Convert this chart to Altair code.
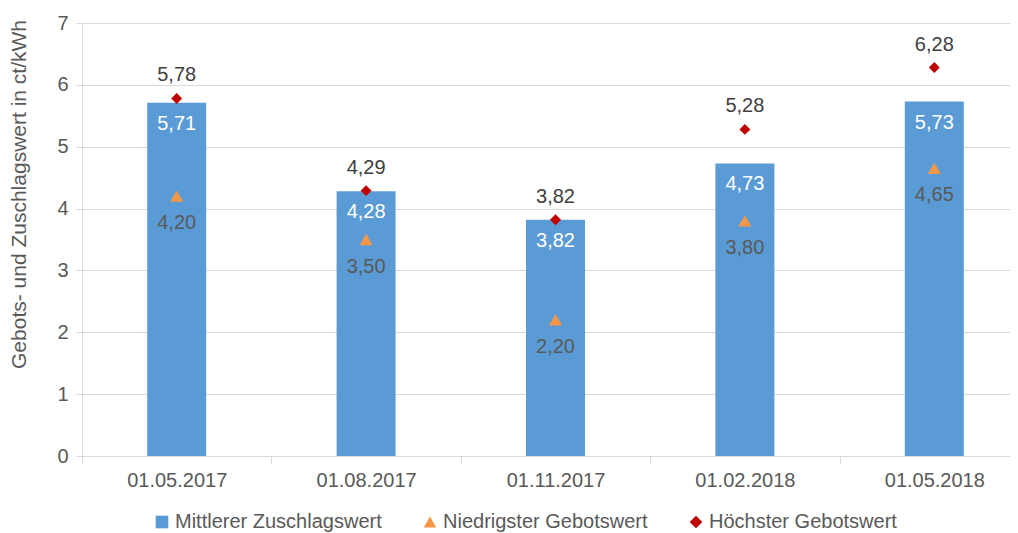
import altair as alt
import pandas as pd

dates = ["01.05.2017", "01.08.2017", "01.11.2017", "01.02.2018", "01.05.2018"]
mittlerer = [5.71, 4.28, 3.82, 4.73, 5.73]
niedrigster = [4.20, 3.50, 2.20, 3.80, 4.65]
hoechster = [5.78, 4.29, 3.82, 5.28, 6.28]

series = ["Mittlerer Zuschlagswert", "Niedrigster Gebotswert", "Höchster Gebotswert"]
colors = ["#5B9BD5", "#F79646", "#C00000"]
shapes = ["square", "triangle-up", "diamond"]

df = pd.DataFrame({"date": dates, "mid": mittlerer, "low": niedrigster, "high": hoechster})
df["s_mid"] = series[0]
df["s_low"] = series[1]
df["s_high"] = series[2]

FONT = "Liberation Sans"
GREY = "#595959"
FS = 20

x = alt.X("date:N", sort=dates, title=None,
          scale=alt.Scale(paddingInner=0, paddingOuter=0, range=[0, 947]),
          axis=alt.Axis(labelAngle=0, labelFontSize=FS, labelColor=GREY, labelFont=FONT,
                        tickBand="extent", domainColor="#D9D9D9", tickColor="#D9D9D9",
                        tickSize=8, labelPadding=6, grid=False))
yscale = alt.Scale(domain=[0, 7])
yaxis = alt.Axis(values=list(range(8)), tickCount=8, labelFontSize=FS, labelColor=GREY, labelFont=FONT,
                 title="Gebots- und Zuschlagswert in ct/kWh", titleFontSize=21, titleColor=GREY,
                 titleFont=FONT, titleFontWeight="normal",
                 titleX=-63, titleY=171, titleAlign="center", titleBaseline="middle", titleAngle=270,
                 gridColor="#D9D9D9", domainColor="#D9D9D9", tickColor="#D9D9D9", tickSize=6,
                 labelPadding=8)

color = lambda f: alt.Color(f"{f}:N", scale=alt.Scale(domain=series, range=colors),
                            legend=alt.Legend(title=None, orient="none", direction="horizontal",
                                              legendX=70, legendY=489,
                                              labelFontSize=FS, labelColor=GREY, labelFont=FONT,
                                              symbolSize=160, symbolStrokeWidth=0, columnPadding=38,
                                              labelOffset=3, labelLimit=400))
shape = lambda f: alt.Shape(f"{f}:N", scale=alt.Scale(domain=series, range=shapes))

base = alt.Chart(df)

bars = base.mark_bar(width=59).encode(
    x=x, y=alt.Y("mid:Q", scale=yscale, axis=yaxis), color=color("s_mid"), shape=shape("s_mid"))

tri = base.mark_point(filled=True, size=170, opacity=1).encode(
    x=x, y=alt.Y("low:Q", scale=yscale), color=color("s_low"), shape=shape("s_low"))

dia = base.mark_point(filled=True, size=120, opacity=1).encode(
    x=x, y=alt.Y("high:Q", scale=yscale), color=color("s_high"), shape=shape("s_high"))

lab_mid = base.transform_calculate(
    t="replace(format(datum.mid, '.2f'), '.', ',')").mark_text(
    font=FONT, fontSize=FS, color="white", dy=21).encode(x=x, y=alt.Y("mid:Q", scale=yscale), text="t:N")

lab_low = base.transform_calculate(
    t="replace(format(datum.low, '.2f'), '.', ',')").mark_text(
    font=FONT, fontSize=FS, color="#595959", dy=27).encode(x=x, y=alt.Y("low:Q", scale=yscale), text="t:N")

lab_high = base.transform_calculate(
    t="replace(format(datum.high, '.2f'), '.', ',')").mark_text(
    font=FONT, fontSize=FS, color="#404040", dy=-23).encode(x=x, y=alt.Y("high:Q", scale=yscale), text="t:N")

chart = alt.layer(bars, tri, dia, lab_mid, lab_low, lab_high).properties(
    width=928, height=433,
    autosize=alt.AutoSizeParams(type="none"),
    padding={"left": 74, "top": 15, "right": 0, "bottom": 76}
).configure_view(stroke=None)

chart.save("out.html", embed_options={"renderer": "svg", "actions": False})
